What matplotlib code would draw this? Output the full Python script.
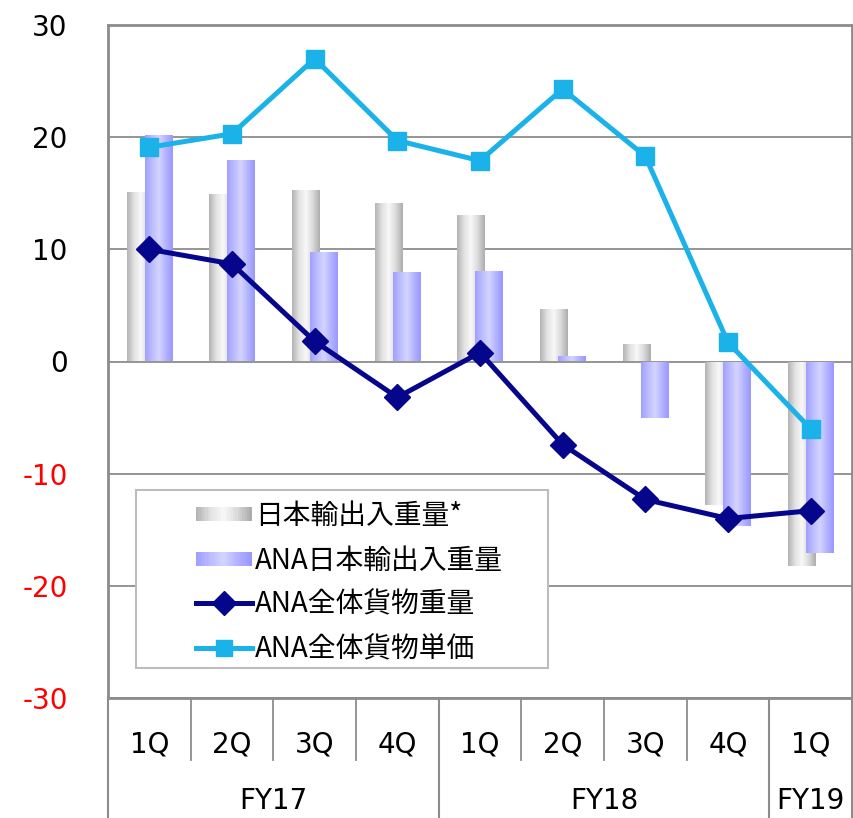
import numpy as np
import matplotlib
matplotlib.use('Agg')
import matplotlib.pyplot as plt
from matplotlib.patches import Rectangle
from matplotlib.lines import Line2D
from matplotlib.legend_handler import HandlerBase
import matplotlib.transforms as mtransforms
from matplotlib.colors import LinearSegmentedColormap

plt.rcParams['font.family'] = ['DejaVu Sans', 'Noto Sans CJK JP']
plt.rcParams['axes.unicode_minus'] = False

quarters = ['1Q', '2Q', '3Q', '4Q', '1Q', '2Q', '3Q', '4Q', '1Q']
years = ['FY17', 'FY18', 'FY19']
year_spans = [(0, 3), (4, 7), (8, 8)]

japan_weight = [15.1, 14.9, 15.3, 14.1, 13.1, 4.7, 1.6, -12.8, -18.2]
ana_japan_weight = [20.2, 18.0, 9.8, 8.0, 8.1, 0.5, -5.0, -14.7, -17.1]
ana_total_weight = [10.0, 8.7, 1.8, -3.2, 0.8, -7.4, -12.3, -14.0, -13.3]
ana_unit_price = [19.1, 20.3, 27.0, 19.7, 17.9, 24.3, 18.3, 1.7, -6.0]

labels = ['日本輸出入重量*', 'ANA日本輸出入重量', 'ANA全体貨物重量', 'ANA全体貨物単価']

gray_cmap = LinearSegmentedColormap.from_list('g', ['#b4b4b4', '#e2e2e2', '#f8f8f8', '#dadada', '#adadad'])
blue_cmap = LinearSegmentedColormap.from_list('b', ['#a0a0ff', '#bcbcff', '#d4d4ff', '#b4b4ff', '#9898ff'])

fig = plt.figure(figsize=(8.54, 8.18), dpi=100)
ax = fig.add_axes([108 / 854, 1 - 698 / 818, 744 / 854, 673 / 818])

x = np.arange(len(quarters))
w = 0.33
off = 0.11

grad = np.linspace(0, 1, 64).reshape(1, -1)


def gradient_bars(bars, cmap, z):
    for b in bars:
        b.set_facecolor('none')
        b.set_edgecolor('none')
        x0, y0 = b.get_x(), b.get_y()
        x1, y1 = x0 + b.get_width(), y0 + b.get_height()
        im = ax.imshow(grad, cmap=cmap, aspect='auto', extent=(x0, x1, min(y0, y1), max(y0, y1)),
                       zorder=z, interpolation='bilinear')
        im.set_clip_path(b)


gb = ax.bar(x - off, japan_weight, w, zorder=2)
gradient_bars(gb, gray_cmap, 2)
bb = ax.bar(x + off, ana_japan_weight, w, zorder=3)
gradient_bars(bb, blue_cmap, 3)

ax.plot(x, ana_total_weight, color='#06068c', lw=3.6, marker='D', ms=13, zorder=5)
ax.plot(x, ana_unit_price, color='#1ab2e8', lw=3.6, marker='s', ms=13, zorder=6)

ax.set_xlim(-0.5, 8.5)
ax.set_ylim(-30, 30)
ax.set_yticks(np.arange(-30, 31, 10))
ax.set_xticks([])
ax.grid(axis='y', color='#8c8c8c', lw=1.3, zorder=1)
ax.set_axisbelow(True)
ax.tick_params(axis='y', length=0, pad=29, labelsize=20)
for t, v in zip(ax.get_yticklabels(), np.arange(-30, 31, 10)):
    t.set_color('red' if v < 0 else 'black')
for s in ax.spines.values():
    s.set_color('#8c8c8c')
    s.set_linewidth(2)

# category table below the axis
trans = mtransforms.blended_transform_factory(ax.transData, ax.transAxes)
q_bottom = -62 / 673
y_bottom = -125 / 673
for i in range(len(quarters) - 1):
    ax.add_line(Line2D([i + 0.5, i + 0.5], [0, q_bottom], transform=trans, color='#8c8c8c',
                       lw=1.3, clip_on=False))
for i, q in enumerate(quarters):
    ax.text(i, -47 / 673, q, transform=trans, ha='center', va='center', fontsize=20)
for bnd in [-0.5, 3.5, 7.5, 8.5]:
    ax.add_line(Line2D([bnd, bnd], [0, y_bottom], transform=trans, color='#8c8c8c',
                       lw=1.5, clip_on=False))
for (a, b), yl in zip(year_spans, years):
    ax.text((a + b) / 2, -103 / 673, yl, transform=trans, ha='center', va='center', fontsize=20)


class GradientHandler(HandlerBase):
    def __init__(self, cmap):
        super().__init__()
        self.cmap = cmap

    def create_artists(self, legend, orig_handle, xdescent, ydescent, width, height, fontsize, trans):
        n = 24
        arts = []
        for k in range(n):
            r = Rectangle((xdescent + width * k / n, -ydescent + height * 0.15), width / n + 0.3, height * 0.7,
                          facecolor=self.cmap(k / (n - 1)), edgecolor='none', transform=trans)
            arts.append(r)
        return arts


# legend frame drawn as its own box, legend entries inside it
ax.add_patch(Rectangle((28 / 744, 30 / 673), 412 / 744, 178 / 673, transform=ax.transAxes,
                       facecolor='white', edgecolor='#bdbdbd', lw=1.5, zorder=9))

h_gray = Rectangle((0, 0), 1, 1)
h_blue = Rectangle((0, 1), 1, 1)
h_dark = Line2D([], [], color='#06068c', lw=3.6, marker='D', ms=12)
h_light = Line2D([], [], color='#1ab2e8', lw=3.6, marker='s', ms=12)
leg = ax.legend([h_gray, h_blue, h_dark, h_light], labels, loc='upper left',
                bbox_to_anchor=(88 / 744, 197 / 673), handlelength=2.0,
                handletextpad=0.12, labelspacing=0.52, borderpad=0, borderaxespad=0,
                frameon=False,
                handler_map={h_gray: GradientHandler(gray_cmap), h_blue: GradientHandler(blue_cmap)},
                prop={'family': ['Noto Sans CJK JP', 'DejaVu Sans'], 'size': 20})
leg.set_zorder(10)

fig.savefig('out.png', dpi=100)
